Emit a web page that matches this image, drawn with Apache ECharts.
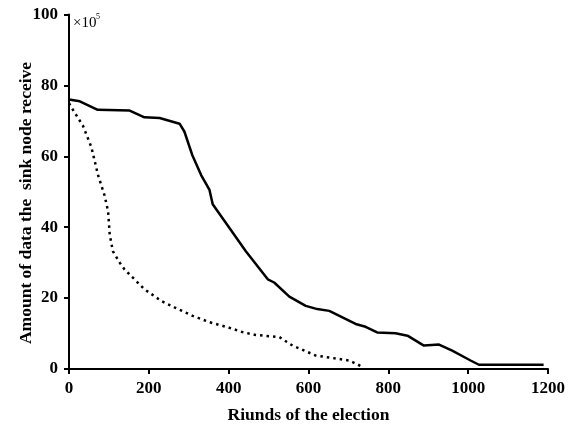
<!DOCTYPE html>
<html>
<head>
<meta charset="utf-8">
<script src="https://cdn.jsdelivr.net/npm/echarts@6/dist/echarts.min.js"></script>
<style>html,body{margin:0;padding:0;background:#fff}#c{width:587px;height:429px}</style>
</head>
<body>
<div id="c"></div>
<script>
var solidRounds = [0,27,72,152,189,227,277,289,309,331,352,360,402,443,498,514,552,593,622,652,718,743,772,818,848,889,927,960,1006,1027,1189];
var solidValues = [76,75.5,73.1,72.9,71,70.8,69.2,67,60.3,54.7,50.5,46.5,39.8,33.2,25.3,24.4,20.4,17.8,16.9,16.4,12.7,11.9,10.3,10.1,9.4,6.6,6.9,5.2,2.4,1.2,1.2];
var dottedRounds = [0,6,35,56,73,89,98,102,110,127,139,164,189,231,264,310,352,397,435,468,527,560,618,702,739];
var dottedValues = [75,73.8,68.6,62.6,54.6,49,44.4,37.9,33.2,30,28.1,25.3,22.5,19.2,17.4,15,13.2,11.8,10.4,9.6,9,6.6,3.8,2.4,0.4];
var xTicks = [0,200,400,600,800,1000,1200];
var yTicks = [0,20,40,60,80,100];
var xTitle = 'Riunds of the election';
var yTitle = 'Amount of data the  sink node receive';

function pairs(xs, ys){ return xs.map(function(x,i){ return [x, ys[i]]; }); }

var font = 'Liberation Serif';
var chart = echarts.init(document.getElementById('c'), null, {renderer:'canvas'});
chart.setOption({
  animation:false,
  backgroundColor:'#fff',
  grid:{left:69, right:39, top:14.5, bottom:57, containLabel:false},
  xAxis:{
    type:'value', min:xTicks[0], max:xTicks[xTicks.length-1], interval:200,
    name:xTitle, nameLocation:'middle', nameGap:37,
    nameTextStyle:{fontFamily:font, fontSize:17.5, fontWeight:'bold', color:'#000'},
    axisLine:{show:true, onZero:false, lineStyle:{color:'#000', width:2}},
    axisTick:{show:true, length:5, lineStyle:{color:'#000', width:2}},
    axisLabel:{fontFamily:font, fontSize:17, fontWeight:'bold', color:'#000', margin:11,
      formatter:function(v){ return String(v); }},
    splitLine:{show:false}
  },
  yAxis:{
    type:'value', min:yTicks[0], max:yTicks[yTicks.length-1], interval:20,
    axisLine:{show:true, lineStyle:{color:'#000', width:2}},
    axisTick:{show:true, length:5, lineStyle:{color:'#000', width:2}},
    axisLabel:{fontFamily:font, fontSize:17, fontWeight:'bold', color:'#000', margin:11,
      formatter:function(v){ return String(v); }},
    splitLine:{show:false}
  },
  graphic:[
    {type:'text', x:26, y:203, rotation:Math.PI/2,
     style:{text:yTitle, fontFamily:font, fontSize:17.5, fontWeight:'bold', fill:'#000', align:'center', verticalAlign:'middle'}},
    {type:'text', x:73, y:23,
     style:{text:'×10', fontFamily:font, fontSize:15, fill:'#000', align:'left', verticalAlign:'middle'}},
    {type:'text', x:96, y:17,
     style:{text:'5', fontFamily:font, fontSize:8, fill:'#000', align:'left', verticalAlign:'middle'}}
  ],
  series:[
    {type:'line', data:pairs(solidRounds, solidValues), showSymbol:false, smooth:false,
     lineStyle:{color:'#000', width:2.5}},
    {type:'line', data:pairs(dottedRounds, dottedValues), showSymbol:false, smooth:false,
     lineStyle:{color:'#000', width:2.5, type:[2.5,4]}}
  ]
});
</script>
</body>
</html>
